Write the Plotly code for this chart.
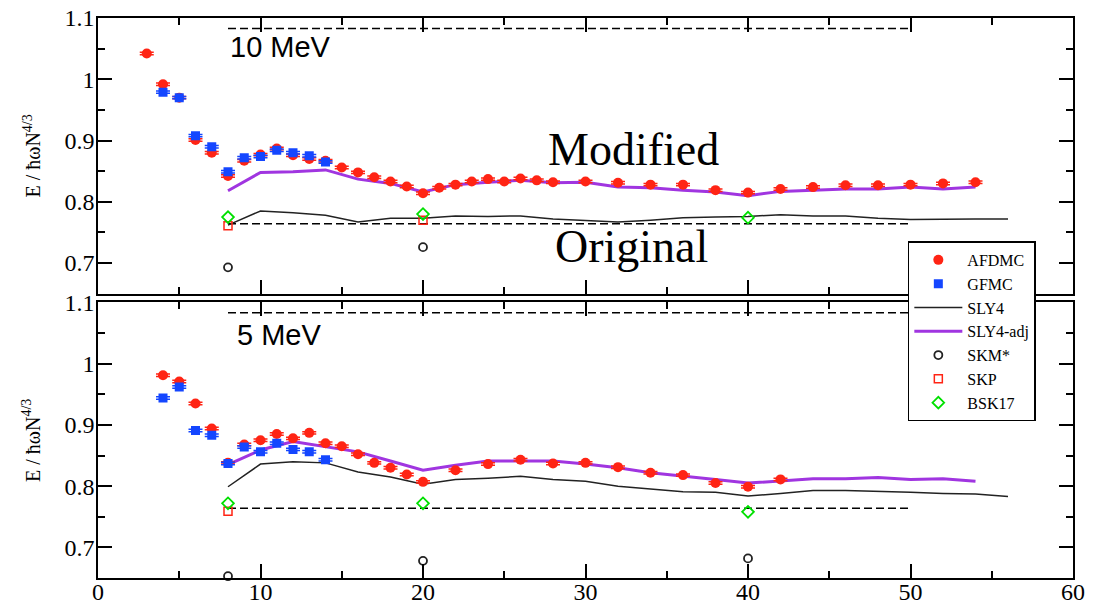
import plotly.graph_objects as go

# ---------------- data ----------------
# top panel (10 MeV)
N_TOP_AFDMC = [3, 4, 5, 6, 7, 8, 9, 10, 11, 12, 13, 14, 15, 16, 17, 18, 19, 20, 21, 22, 23, 24, 25, 26, 27, 28,
               30, 32, 34, 36, 38, 40, 42, 44, 46, 48, 50, 52, 54]
E_TOP_AFDMC = [1.042, 0.992, 0.970, 0.901, 0.880, 0.842, 0.867, 0.877, 0.887, 0.876, 0.870, 0.867, 0.856, 0.848,
               0.840, 0.833, 0.825, 0.814, 0.823, 0.828, 0.833, 0.837, 0.833, 0.838, 0.835, 0.832,
               0.833, 0.831, 0.828, 0.828, 0.819, 0.815, 0.821, 0.824, 0.827, 0.827, 0.828, 0.830, 0.832]
N_TOP_GFMC = [4, 5, 6, 7, 8, 9, 10, 11, 12, 13, 14]
E_TOP_GFMC = [0.979, 0.970, 0.908, 0.890, 0.849, 0.872, 0.874, 0.884, 0.880, 0.875, 0.865]
N_TOP_LINES = [8, 10, 12, 14, 16, 18, 20, 22, 24, 26, 28, 30, 32, 34, 36, 38, 40, 42, 44, 46, 48, 50, 52, 54, 56]
E_TOP_SLY4 = [0.762, 0.785, 0.782, 0.778, 0.767, 0.773, 0.773, 0.777, 0.776, 0.777, 0.772, 0.770, 0.767,
              0.770, 0.774, 0.775, 0.776, 0.779, 0.777, 0.777, 0.773, 0.771, 0.772, 0.772, 0.772]
E_TOP_SLY4ADJ = [0.818, 0.848, 0.849, 0.852, 0.837, 0.830, 0.816, 0.828, 0.832, 0.835, 0.831, 0.832, 0.824,
                 0.823, 0.819, 0.816, 0.810, 0.817, 0.819, 0.821, 0.821, 0.824, 0.821, 0.824]
N_TOP_SKM = [8, 20]
E_TOP_SKM = [0.693, 0.726]
N_TOP_SKP = [8, 20]
E_TOP_SKP = [0.761, 0.770]
N_TOP_BSK = [8, 20, 40]
E_TOP_BSK = [0.775, 0.780, 0.774]

# bottom panel (5 MeV)
N_BOT_AFDMC = [4, 5, 6, 7, 8, 9, 10, 11, 12, 13, 14, 15, 16, 17, 18, 19, 20, 22, 24, 26, 28, 30, 32, 34, 36,
               38, 40, 42]
E_BOT_AFDMC = [0.981, 0.971, 0.935, 0.894, 0.838, 0.868, 0.875, 0.885, 0.878, 0.887, 0.870, 0.865, 0.852,
               0.838, 0.830, 0.819, 0.807, 0.826, 0.836, 0.843, 0.837, 0.838, 0.831, 0.822, 0.818, 0.805,
               0.799, 0.811]
N_BOT_GFMC = [4, 5, 6, 7, 8, 9, 10, 11, 12, 13, 14]
E_BOT_GFMC = [0.944, 0.962, 0.891, 0.883, 0.837, 0.864, 0.856, 0.870, 0.860, 0.856, 0.843]
N_BOT_LINES = [8, 10, 12, 14, 16, 18, 20, 22, 24, 26, 28, 30, 32, 34, 36, 38, 40, 42, 44, 46, 48, 50, 52, 54, 56]
E_BOT_SLY4 = [0.799, 0.836, 0.840, 0.838, 0.823, 0.815, 0.803, 0.811, 0.813, 0.816, 0.811, 0.808, 0.800,
              0.796, 0.791, 0.790, 0.784, 0.788, 0.793, 0.793, 0.792, 0.790, 0.788, 0.787, 0.783]
E_BOT_SLY4ADJ = [0.835, 0.859, 0.873, 0.865, 0.856, 0.841, 0.826, 0.834, 0.841, 0.841, 0.841, 0.836, 0.830,
                 0.822, 0.817, 0.811, 0.805, 0.808, 0.812, 0.812, 0.814, 0.811, 0.812, 0.808]
N_BOT_SKM = [8, 20, 40]
E_BOT_SKM = [0.653, 0.678, 0.682]
N_BOT_SKP = [8]
E_BOT_SKP = [0.759]
N_BOT_BSK = [8, 20, 40]
E_BOT_BSK = [0.772, 0.772, 0.758]

# dashed reference lines
DASH_N = [8, 50]
DASH_HI = 1.083
DASH_LO = 0.764
ERR = 0.002

X_TICKS = [0, 10, 20, 30, 40, 50, 60]
Y_TICKS = [0.7, 0.8, 0.9, 1.0, 1.1]
Y_TICKTEXT = ["0.7", "0.8", "0.9", "1", "1.1"]
Y_TITLE = "E / ħωN<sup>4/3</sup>"

# ---------------- style ----------------
RED = "#ff2414"
BLUE = "#1446ff"
PURPLE = "#a035e0"
GREEN = "#00e000"
SERIF = "Liberation Serif"

fig = go.Figure()

panels = [
    dict(xa="x", ya="y", af=(N_TOP_AFDMC, E_TOP_AFDMC), gf=(N_TOP_GFMC, E_TOP_GFMC),
         nl=N_TOP_LINES, sly=E_TOP_SLY4, adj=E_TOP_SLY4ADJ,
         skm=(N_TOP_SKM, E_TOP_SKM), skp=(N_TOP_SKP, E_TOP_SKP), bsk=(N_TOP_BSK, E_TOP_BSK), leg=False),
    dict(xa="x2", ya="y2", af=(N_BOT_AFDMC, E_BOT_AFDMC), gf=(N_BOT_GFMC, E_BOT_GFMC),
         nl=N_BOT_LINES, sly=E_BOT_SLY4, adj=E_BOT_SLY4ADJ,
         skm=(N_BOT_SKM, E_BOT_SKM), skp=(N_BOT_SKP, E_BOT_SKP), bsk=(N_BOT_BSK, E_BOT_BSK), leg=True),
]

for p in panels:
    xa, ya, leg = p["xa"], p["ya"], p["leg"]
    for lvl in (DASH_HI, DASH_LO):
        fig.add_trace(go.Scatter(x=DASH_N, y=[lvl, lvl], mode="lines", xaxis=xa, yaxis=ya,
                                 line=dict(color="black", width=1.5, dash="8px,4px"),
                                 showlegend=False, hoverinfo="skip"))
    fig.add_trace(go.Scatter(x=p["nl"], y=p["sly"], mode="lines", name="SLY4", xaxis=xa, yaxis=ya,
                             line=dict(color="#222222", width=1.5), showlegend=leg, legendrank=3))
    fig.add_trace(go.Scatter(x=p["nl"][:len(p["adj"])], y=p["adj"], mode="lines", name="SLY4-adj",
                             xaxis=xa, yaxis=ya, line=dict(color=PURPLE, width=3),
                             showlegend=leg, legendrank=4))
    fig.add_trace(go.Scatter(x=p["af"][0], y=p["af"][1], mode="markers", name="AFDMC", xaxis=xa, yaxis=ya,
                             marker=dict(symbol="circle", size=10, color=RED),
                             error_y=dict(type="constant", value=ERR, color=RED, thickness=1.5, width=7),
                             showlegend=leg, legendrank=1))
    fig.add_trace(go.Scatter(x=p["gf"][0], y=p["gf"][1], mode="markers", name="GFMC", xaxis=xa, yaxis=ya,
                             marker=dict(symbol="square", size=9, color=BLUE),
                             error_y=dict(type="constant", value=ERR, color=BLUE, thickness=1.5, width=7),
                             showlegend=leg, legendrank=2))
    fig.add_trace(go.Scatter(x=p["skm"][0], y=p["skm"][1], mode="markers", name="SKM*", xaxis=xa, yaxis=ya,
                             marker=dict(symbol="circle-open", size=8, color="#222222", line=dict(width=1.8)),
                             showlegend=leg, legendrank=5, cliponaxis=False))
    fig.add_trace(go.Scatter(x=p["skp"][0], y=p["skp"][1], mode="markers", name="SKP", xaxis=xa, yaxis=ya,
                             marker=dict(symbol="square-open", size=8, color=RED, line=dict(width=1.5)),
                             showlegend=leg, legendrank=6))
    fig.add_trace(go.Scatter(x=p["bsk"][0], y=p["bsk"][1], mode="markers", name="BSK17", xaxis=xa, yaxis=ya,
                             marker=dict(symbol="diamond-open", size=9, color=GREEN, line=dict(width=1.8)),
                             showlegend=leg, legendrank=7))

axis_common = dict(range=[0, 60], showline=True, linecolor="black", linewidth=1.5, mirror="ticks",
                   ticks="inside", ticklen=14, tickwidth=1.5, tickcolor="black",
                   tickvals=X_TICKS, showgrid=False, zeroline=False, automargin=False,
                   ticklabeloverflow="allow", ticklabelstandoff=-9,
                   minor=dict(ticks="inside", ticklen=7, tickwidth=1.5, tickcolor="black", dtick=5,
                              showgrid=False),
                   tickfont=dict(family=SERIF, size=24, color="black"))
yaxis_common = dict(range=[0.65, 1.1], showline=True, linecolor="black", linewidth=1.5, mirror="ticks",
                    ticks="inside", ticklen=14, tickwidth=1.5, tickcolor="black",
                    tickvals=Y_TICKS, ticktext=Y_TICKTEXT, automargin=False,
                    ticklabeloverflow="allow", ticklabelstandoff=-3,
                    showgrid=False, zeroline=False,
                    minor=dict(ticks="inside", ticklen=7, tickwidth=1.5, tickcolor="black", dtick=0.05,
                               showgrid=False),
                    tickfont=dict(family=SERIF, size=24, color="black"))

TOP_DOM = [0.5077, 1.0]
BOT_DOM = [0.0, 0.4921]

fig.update_layout(
    width=1094, height=600,
    margin=dict(l=90, r=29, t=10, b=30),
    paper_bgcolor="white", plot_bgcolor="white",
    xaxis=dict(axis_common, domain=[0, 1], anchor="y", showticklabels=False),
    yaxis=dict(yaxis_common, domain=TOP_DOM, anchor="x"),
    xaxis2=dict(axis_common, domain=[0, 1], anchor="y2"),
    yaxis2=dict(yaxis_common, domain=BOT_DOM, anchor="x2"),
    legend=dict(x=0.8306, y=0.601, xanchor="left", yanchor="top", bgcolor="white",
                bordercolor="black", borderwidth=1.5, itemwidth=48,
                font=dict(family=SERIF, size=16, color="black"), tracegroupgap=0),
    showlegend=True,
    annotations=[
        dict(text=Y_TITLE, x=-0.068, y=sum(TOP_DOM) / 2, xref="paper", yref="paper", textangle=-90,
             xanchor="center", yanchor="middle", showarrow=False,
             font=dict(family=SERIF, size=20, color="black")),
        dict(text=Y_TITLE, x=-0.068, y=sum(BOT_DOM) / 2, xref="paper", yref="paper", textangle=-90,
             xanchor="center", yanchor="middle", showarrow=False,
             font=dict(family=SERIF, size=20, color="black")),
        dict(text="10 MeV", x=8.0, y=1.052, xref="x", yref="y", xanchor="left", yanchor="middle",
             showarrow=False, font=dict(family="Liberation Sans", size=29, color="black")),
        dict(text="5 MeV", x=8.4, y=1.046, xref="x2", yref="y2", xanchor="left", yanchor="middle",
             showarrow=False, font=dict(family="Liberation Sans", size=29, color="black")),
        dict(text="Modified", x=32.95, y=0.886, xref="x", yref="y", xanchor="center", yanchor="middle",
             showarrow=False, font=dict(family=SERIF, size=46, color="black")),
        dict(text="Original", x=32.8, y=0.727, xref="x", yref="y", xanchor="center", yanchor="middle",
             showarrow=False, font=dict(family=SERIF, size=46, color="black")),
    ],
)

fig.write_html("out.html")
